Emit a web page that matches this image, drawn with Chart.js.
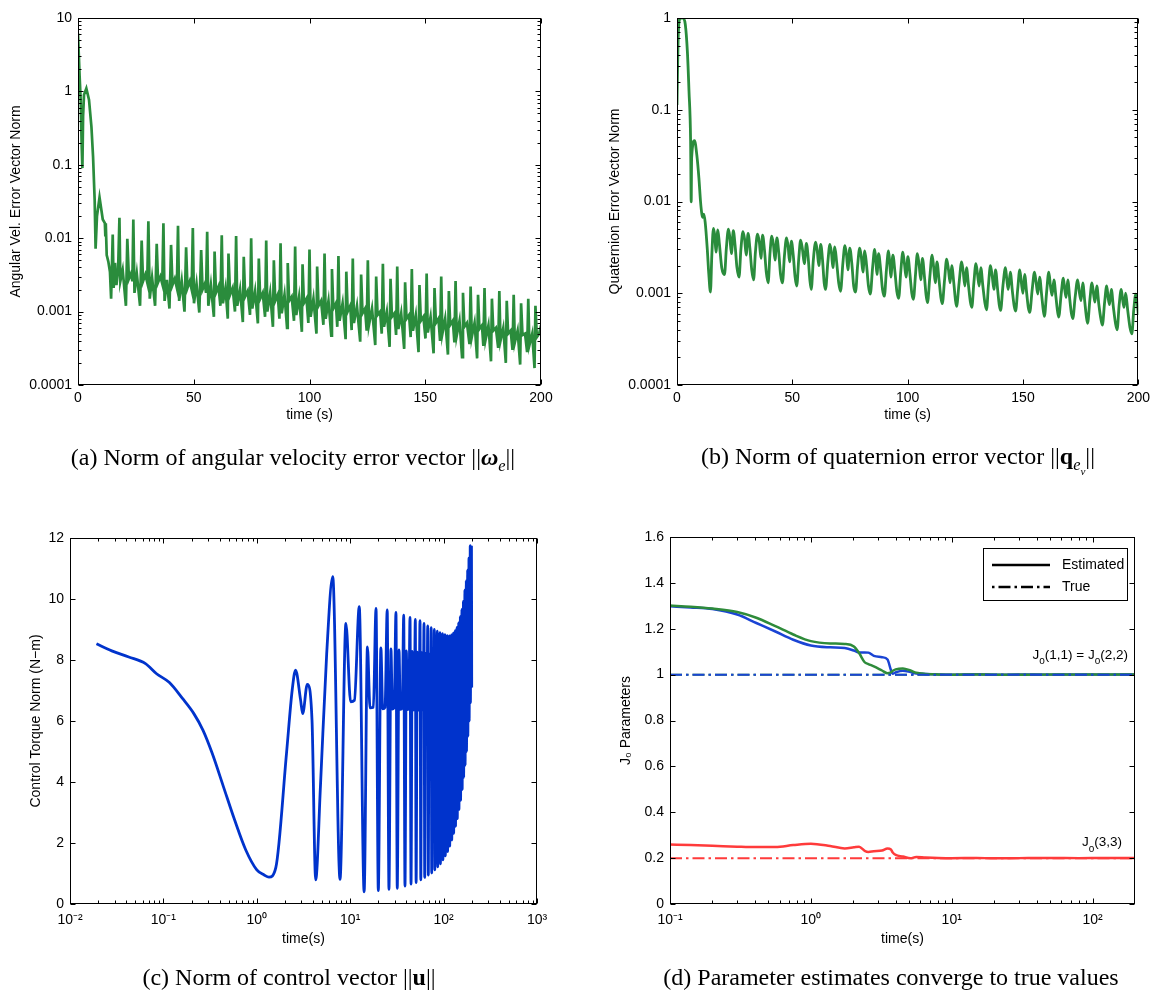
<!DOCTYPE html>
<html>
<head>
<meta charset="utf-8">
<script src="https://cdn.jsdelivr.net/npm/chart.js@4.4.1/dist/chart.umd.min.js"></script>
<style>
  body { margin: 0; background: #fff; }
  #page { position: relative; width: 1155px; height: 992px; overflow: hidden; background: #fff; }
  canvas { position: absolute; }
  .cap { position: absolute; transform: translate(-50%, -50%); will-change: transform; font-family: 'Liberation Serif', 'Times New Roman', serif; font-size: 24px; white-space: nowrap; color: #000; }
  .cap sub { font-size: 68%; }
</style>
</head>
<body>
<div id="page">
  <canvas id="chartA" width="578" height="440" style="left:0;top:0"></canvas>
  <canvas id="chartB" width="577" height="440" style="left:578px;top:0"></canvas>
  <canvas id="chartC" width="578" height="460" style="left:0;top:500px"></canvas>
  <canvas id="chartD" width="577" height="460" style="left:578px;top:500px"></canvas>
  <div class="cap" style="left:293px;top:460px">(a) Norm of angular velocity error vector ||<b><i>ω</i></b><sub><i>e</i></sub>||</div>
  <div class="cap" style="left:898px;top:460px">(b) Norm of quaternion error vector ||<b>q</b><sub><i>e<sub>v</sub></i></sub>||</div>
  <div class="cap" style="left:289px;top:977px">(c) Norm of control vector ||<b>u</b>||</div>
  <div class="cap" style="left:891px;top:977px">(d) Parameter estimates converge to true values</div>
</div>
<script>
// ---- (a) angular velocity error norm ----
const omegaTime = [
  0, 0.7, 1.15, 1.6, 1.9, 2.2, 2.6, 3.6, 4.75, 5.8, 6.5, 7.2, 7.6, 8.2, 9.3, 10.7, 11.6, 11.8, 12.0, 12.4, 13.1, 13.8,
  14.3, 15.0, 15.4, 16.0, 16.6, 17.3, 17.9, 18.3, 19.3,
  20.7, 21.3, 22.0, 22.9, 23.5, 23.9, 24.4, 25.4,
  26.8, 27.5, 28.1, 29.1, 29.9, 30.4, 31.0, 32.0,
  33.3, 34.0, 34.6, 35.6, 36.4, 36.9, 37.4, 38.4,
  39.5, 40.2, 40.8, 41.8, 42.7, 43.2, 43.7, 44.8,
  46.0, 46.7, 47.3, 48.3, 49.1, 49.6, 50.1, 51.2,
  52.4, 53.2, 53.8, 54.8, 55.3, 55.8, 56.3, 57.4,
  58.7, 59.0, 59.6, 60.7, 61.5, 62.1, 62.6, 63.7,
  64.7, 65.0, 65.7, 66.8, 67.8, 68.3, 68.8, 70.0,
  71.2, 71.6, 72.2, 73.3, 74.3, 74.8, 75.3, 76.5,
  77.7, 78.1, 78.7, 79.8, 80.8, 81.3, 81.8, 83.0,
  84.2, 84.6, 85.2, 86.3, 87.0, 87.5, 88.0, 89.2,
  90.3, 90.6, 91.2, 92.3, 93.3, 93.8, 94.3, 95.5,
  96.7, 97.0, 97.6, 98.7, 99.5, 100.0, 100.5, 101.7,
  103.0, 103.3, 103.9, 105.0, 106.0, 106.5, 107.0, 108.2,
  109.4, 109.7, 110.3, 111.4, 112.0, 112.5, 113.0, 114.3,
  115.6, 115.9, 116.5, 117.6, 118.2, 118.7, 119.2, 120.5,
  121.9, 122.3, 122.9, 124.0, 124.7, 125.2, 125.7, 127.0,
  128.4, 128.8, 129.4, 130.5, 131.2, 131.7, 132.2, 133.4,
  134.6, 135.0, 135.6, 136.7, 137.4, 137.9, 138.4, 139.6,
  140.9, 141.3, 141.9, 143.0, 143.7, 144.2, 144.7, 145.9,
  147.1, 147.5, 148.1, 149.2, 150.1, 150.6, 151.1, 152.3,
  153.6, 154.0, 154.6, 155.7, 156.4, 156.9, 157.4, 158.6,
  159.8, 160.2, 160.8, 161.9, 162.6, 163.1, 163.6, 164.8,
  165.9, 166.3, 166.9, 168.0, 169.1, 169.6, 170.1, 171.3,
  172.4, 172.8, 173.4, 174.5, 175.1, 175.6, 176.1, 177.3,
  178.4, 178.8, 179.4, 180.5, 181.5, 182.0, 182.5, 183.7,
  184.8, 185.2, 185.8, 186.9, 187.7, 188.2, 188.7, 189.9,
  191.0, 191.4, 192.0, 193.1, 194.0, 194.5, 195.0, 196.2,
  197.2, 197.6, 198.2, 199.2, 200
];
const omegaNorm = [
  6.2, 1.6, 0.78, 0.18, 0.09, 0.46, 0.9, 1.1, 0.77, 0.33, 0.13, 0.033, 0.0072, 0.02, 0.036, 0.018, 0.016, 0.011, 0.016, 0.0059, 0.0048, 0.0035,
  0.0015, 0.0112, 0.0021, 0.0046, 0.0023, 0.0035, 0.019, 0.0026, 0.0037,
  0.0012, 0.0098, 0.0028, 0.0033, 0.0026, 0.018, 0.0018, 0.0033,
  0.0012, 0.0093, 0.0026, 0.0032, 0.0025, 0.017, 0.0015, 0.0029,
  0.0012, 0.0084, 0.0025, 0.003, 0.0024, 0.016, 0.0014, 0.0027,
  0.0011, 0.0081, 0.0023, 0.0028, 0.0021, 0.0148, 0.0014, 0.0026,
  0.0010, 0.0075, 0.0021, 0.0026, 0.002, 0.0138, 0.0013, 0.0024,
  0.00097, 0.0069, 0.002, 0.0024, 0.0018, 0.0122, 0.0012, 0.0023,
  0.00085, 0.0066, 0.0018, 0.0022, 0.0012, 0.011, 0.0013, 0.0021,
  0.0008, 0.0062, 0.0017, 0.0021, 0.001, 0.0107, 0.0012, 0.002,
  0.00072, 0.0056, 0.0016, 0.0019, 0.0009, 0.010, 0.0011, 0.0019,
  0.00069, 0.0053, 0.0015, 0.0018, 0.00085, 0.0093, 0.001, 0.0018,
  0.00062, 0.005, 0.0014, 0.0017, 0.0008, 0.0085, 0.00095, 0.0017,
  0.0006, 0.0046, 0.0014, 0.0016, 0.00075, 0.0077, 0.0009, 0.0016,
  0.00053, 0.0044, 0.0013, 0.0015, 0.0007, 0.007, 0.00085, 0.0015,
  0.0005, 0.0041, 0.0012, 0.0014, 0.00066, 0.0062, 0.0008, 0.0014,
  0.00047, 0.0038, 0.0011, 0.0013, 0.00062, 0.0057, 0.00075, 0.0013,
  0.00042, 0.0035, 0.001, 0.0012, 0.00056, 0.0053, 0.0007, 0.0012,
  0.00039, 0.0032, 0.00095, 0.0011, 0.00055, 0.005, 0.00066, 0.0011,
  0.00035, 0.003, 0.0009, 0.001, 0.0005, 0.0045, 0.00062, 0.001,
  0.00033, 0.0028, 0.00085, 0.00095, 0.00048, 0.0041, 0.00058, 0.00095,
  0.00031, 0.0025, 0.0008, 0.0009, 0.00045, 0.0038, 0.00055, 0.0009,
  0.00028, 0.0023, 0.00075, 0.00085, 0.00043, 0.0033, 0.00052, 0.00085,
  0.00027, 0.0021, 0.0007, 0.0008, 0.0004, 0.003, 0.0005, 0.0008,
  0.00026, 0.0019, 0.00066, 0.00075, 0.00038, 0.0026, 0.00047, 0.00075,
  0.00024, 0.0018, 0.00062, 0.0007, 0.00036, 0.0022, 0.00045, 0.0007,
  0.00023, 0.0017, 0.00058, 0.00065, 0.00034, 0.0021, 0.00042, 0.00065,
  0.00021, 0.0015, 0.00055, 0.0006, 0.00032, 0.0019, 0.0004, 0.0006,
  0.0002, 0.0014, 0.0005, 0.00055, 0.0003, 0.0017, 0.00038, 0.00055,
  0.00019, 0.0013, 0.00048, 0.0005, 0.00028, 0.0015, 0.00035, 0.0005,
  0.00017, 0.0012, 0.00045, 0.0005, 0.00065
];

// ---- (b) quaternion error norm ----
const quatTime = [
  0, 0.4, 0.9, 1.6, 2.6, 3.6, 4.5, 5.2, 5.9, 6.15, 6.35, 7.6, 8.6, 9.5, 10.2, 10.8, 11.2, 11.6, 12.2, 13.1, 13.8, 14.5,
  15.1, 15.8, 16.4, 16.9, 17.7, 18.4, 19.4, 20.6,
  21.4, 22.3, 22.9, 23.6, 24.4, 25.2, 26.0, 26.9,
  27.7, 28.6, 29.3, 30.0, 30.8, 31.6, 32.4, 33.2,
  34.0, 34.9, 35.7, 36.4, 37.1, 37.9, 38.7, 39.5,
  40.3, 41.1, 41.8, 42.5, 43.3, 44.1, 44.9, 45.7,
  46.6, 47.5, 48.2, 48.8, 49.6, 50.4, 51.2, 51.9,
  52.8, 53.6, 54.4, 55.2, 56.1, 56.9, 57.6, 58.2,
  59.1, 60.1, 60.8, 61.5, 62.3, 63.1, 63.8, 64.4,
  65.4, 66.3, 67.0, 67.6, 68.4, 69.2, 70.1, 70.9,
  71.9, 72.8, 73.5, 74.1, 74.9, 75.8, 76.6, 77.4,
  78.3, 79.2, 79.9, 80.6, 81.4, 82.2, 83.0, 83.8,
  84.8, 85.7, 86.2, 86.7, 87.4, 88.3, 89.1, 89.9,
  90.8, 91.7, 92.2, 92.7, 93.6, 94.5, 95.3, 96.1,
  97.0, 97.9, 98.6, 99.3, 100.1, 101.0, 101.8, 102.5,
  103.4, 104.2, 105.0, 105.7, 106.4, 107.3, 108.0, 108.6,
  109.6, 110.6, 111.3, 112.0, 112.7, 113.6, 114.4, 115.0,
  116.0, 116.9, 117.7, 118.4, 119.1, 120.0, 120.7, 121.2,
  122.3, 123.4, 124.1, 124.8, 125.5, 126.4, 127.2, 127.8,
  128.7, 129.6, 130.3, 131.0, 131.7, 132.6, 133.5, 134.2,
  135.0, 135.9, 136.7, 137.4, 138.1, 139.0, 139.7, 140.3,
  141.3, 142.4, 143.0, 143.6, 144.5, 145.4, 146.2, 146.8,
  147.7, 148.6, 149.3, 150.0, 150.7, 151.6, 152.3, 152.9,
  154.0, 155.0, 155.7, 156.4, 157.2, 158.1, 158.8, 159.3,
  160.2, 161.2, 161.9, 162.6, 163.4, 164.3, 165.0, 165.5,
  166.5, 167.5, 168.1, 168.7, 169.4, 170.3, 171.0, 171.6,
  172.6, 173.7, 174.5, 175.2, 175.9, 176.8, 177.5, 178.0,
  179.0, 179.9, 180.6, 181.2, 182.0, 182.9, 183.8, 184.4,
  185.4, 186.3, 186.9, 187.5, 188.3, 189.2, 190.1, 190.8,
  191.7, 192.6, 193.2, 193.8, 194.5, 195.4, 196.4, 197.2,
  198.0, 198.9, 199.5, 200
];
const quatNorm = [
  0.113, 0.47, 0.92, 1.0, 1.0, 0.85, 0.43, 0.16, 0.045, 0.0099, 0.03, 0.046, 0.032, 0.018, 0.01, 0.0072, 0.0067, 0.0073, 0.006, 0.0031, 0.0016, 0.00103,
  0.0026, 0.0051, 0.0042, 0.0028, 0.0049, 0.0034, 0.0019, 0.0016,
  0.0031, 0.005, 0.0041, 0.0027, 0.0048, 0.0033, 0.0019, 0.0015,
  0.003, 0.0047, 0.0039, 0.0026, 0.0045, 0.0031, 0.0018, 0.0014,
  0.0028, 0.0044, 0.0036, 0.0024, 0.0043, 0.003, 0.0017, 0.0013,
  0.0027, 0.0042, 0.0034, 0.0023, 0.004, 0.0028, 0.0016, 0.0013,
  0.0026, 0.004, 0.0032, 0.0022, 0.0037, 0.0026, 0.0015, 0.0012,
  0.0024, 0.0038, 0.003, 0.0021, 0.0035, 0.0024, 0.0014, 0.0011,
  0.0023, 0.0036, 0.0029, 0.002, 0.0034, 0.0023, 0.0013, 0.0011,
  0.0022, 0.0034, 0.0027, 0.0019, 0.0032, 0.0022, 0.0013, 0.00105,
  0.0021, 0.0033, 0.0026, 0.0018, 0.0031, 0.0021, 0.0012, 0.00103,
  0.002, 0.0031, 0.0025, 0.0017, 0.0029, 0.002, 0.0012, 0.00098,
  0.0019, 0.003, 0.0023, 0.0016, 0.0027, 0.0018, 0.0011, 0.00093,
  0.0018, 0.0029, 0.0022, 0.0015, 0.0026, 0.0017, 0.00105, 0.00088,
  0.0017, 0.0028, 0.0021, 0.0015, 0.0025, 0.0016, 0.001, 0.00086,
  0.0016, 0.0027, 0.002, 0.0014, 0.0024, 0.0015, 0.00095, 0.00079,
  0.0015, 0.0026, 0.0019, 0.0013, 0.0022, 0.0014, 0.0009, 0.00077,
  0.0014, 0.00235, 0.0018, 0.0013, 0.002, 0.0013, 0.00085, 0.00072,
  0.0013, 0.0022, 0.0017, 0.0012, 0.0019, 0.0012, 0.0008, 0.0007,
  0.0013, 0.0021, 0.0016, 0.0012, 0.0019, 0.0012, 0.00078, 0.00066,
  0.0012, 0.002, 0.0015, 0.0011, 0.0018, 0.0011, 0.00075, 0.00065,
  0.0012, 0.0019, 0.0014, 0.0011, 0.0017, 0.00105, 0.00072, 0.00064,
  0.0011, 0.0018, 0.0013, 0.001, 0.0016, 0.001, 0.0007, 0.00062,
  0.0011, 0.0017, 0.0013, 0.00098, 0.0015, 0.00095, 0.00065, 0.00056,
  0.001, 0.0017, 0.0012, 0.00095, 0.0014, 0.0009, 0.00063, 0.00055,
  0.00095, 0.00146, 0.0011, 0.0009, 0.0014, 0.00085, 0.0006, 0.00053,
  0.0009, 0.0014, 0.001, 0.00083, 0.0013, 0.0008, 0.00055, 0.00047,
  0.00085, 0.0013, 0.00098, 0.0008, 0.0012, 0.00075, 0.00052, 0.00045,
  0.0008, 0.0012, 0.0009, 0.00075, 0.0011, 0.0007, 0.00047, 0.0004,
  0.00075, 0.0011, 0.00085, 0.0007, 0.001, 0.00065, 0.00042, 0.00036,
  0.00065, 0.00098, 0.0008, 0.00058
];

// ---- (c) control torque norm ----
const torqueTime = [
  0.0192, 0.028, 0.0426, 0.0643, 0.0845, 0.116, 0.16, 0.211, 0.265, 0.333, 0.439, 0.578, 0.76, 1.0, 1.2, 1.35, 1.6,
  2.08, 2.39, 2.6, 2.94, 3.1, 3.47, 3.9, 4.27, 4.8, 5.6, 6.5, 7.78, 9.0, 10.1, 11.1, 12.5, 14.1,
  15.3, 16.3, 17.7, 18.9, 20.0,
  21.3, 22.3, 23.6, 24.9, 26.0,
  27.3, 28.3, 29.6, 30.9, 31.9,
  33.3, 34.4, 36.1, 37.4, 38.6,
  39.9, 40.9, 42.4, 43.7, 44.8,
  46.1, 47.1, 48.5, 49.8, 50.8,
  52.2, 53.2, 54.6, 55.9, 57.0,
  58.3, 59.3, 60.5, 61.7, 62.8,
  64.1, 65.1, 66.4, 67.6, 68.6,
  69.9, 70.9, 72.3, 73.6, 74.6,
  75.9, 76.9, 78.2, 79.5, 80.5,
  81.8, 82.8, 84.2, 85.5, 86.5,
  87.8, 88.8, 90.2, 91.5, 92.5,
  93.8, 94.8, 96.1, 97.4, 98.4,
  99.7, 100.7, 102.1, 103.4, 104.4,
  105.7, 106.7, 108.1, 109.4, 110.4,
  111.7, 112.7, 114.0, 115.3, 116.3,
  117.6, 118.6, 120.0, 121.3, 122.3,
  123.6, 124.6, 125.9, 127.2, 128.2,
  129.5, 130.5, 131.9, 133.2, 134.2,
  135.5, 136.5, 137.9, 139.2, 140.2,
  141.5, 142.5, 143.8, 145.1, 146.1,
  147.4, 148.4, 149.8, 151.1, 152.1,
  153.4, 154.4, 155.8, 157.1, 158.1,
  159.4, 160.4, 161.7, 163.0, 164.0,
  165.3, 166.3, 167.7, 169.0, 170.0,
  171.3, 172.3, 173.7, 175.0, 176.0,
  177.3, 178.3, 179.6, 180.9, 181.9,
  183.2, 184.2, 185.6, 186.9, 187.9,
  189.2, 190.2, 191.5, 192.8, 193.8,
  195.1, 196.1, 197.5, 198.8, 200
];
const torqueNorm = [
  8.53, 8.3, 8.1, 7.88, 7.55, 7.26, 6.74, 6.25, 5.7, 4.94, 3.85, 2.76, 1.78, 1.12, 0.95, 0.88, 1.2,
  4.94, 7.0, 7.67, 6.7, 6.24, 7.2, 6.03, 0.79, 3.85, 8.2, 10.73, 0.81, 9.2, 6.63, 6.68, 9.75, 0.4,
  8.43, 6.43, 6.45, 9.69, 0.44,
  8.4, 6.4, 6.45, 9.64, 0.48,
  8.36, 6.39, 6.44, 9.56, 0.51,
  8.33, 6.38, 6.43, 9.47, 0.59,
  8.3, 6.37, 6.42, 9.4, 0.65,
  8.28, 6.36, 6.42, 9.33, 0.7,
  8.26, 6.35, 6.41, 9.29, 0.79,
  8.24, 6.35, 6.41, 9.2, 0.87,
  8.22, 6.34, 6.4, 9.12, 0.95,
  8.2, 6.34, 6.4, 9.06, 1.02,
  8.2, 6.34, 6.4, 9.0, 1.12,
  8.2, 6.34, 6.4, 8.95, 1.22,
  8.19, 6.33, 6.4, 8.9, 1.32,
  8.19, 6.33, 6.4, 8.86, 1.45,
  8.19, 6.33, 6.4, 8.83, 1.58,
  8.18, 6.33, 6.4, 8.8, 1.72,
  8.18, 6.33, 6.4, 8.79, 1.9,
  8.18, 6.33, 6.4, 8.82, 2.1,
  8.18, 6.33, 6.4, 8.88, 2.32,
  8.18, 6.33, 6.4, 8.96, 2.55,
  8.19, 6.33, 6.41, 9.07, 2.8,
  8.2, 6.34, 6.42, 9.22, 3.1,
  8.22, 6.35, 6.43, 9.42, 3.4,
  8.25, 6.36, 6.45, 9.66, 3.75,
  8.3, 6.38, 6.48, 9.93, 4.15,
  8.36, 6.42, 6.52, 10.3, 4.55,
  8.44, 6.48, 6.58, 10.6, 5.0,
  8.55, 6.56, 6.66, 10.95, 5.5,
  8.7, 6.68, 6.78, 11.35, 6.0,
  8.9, 6.85, 6.95, 11.75, 6.6,
  9.1, 7.1, 7.2, 11.7, 7.1
];

// ---- (d) parameter estimates ----
const jTime = [0.1, 0.14, 0.2, 0.3, 0.41, 0.56, 0.75, 1.0, 1.37, 1.74, 2.02, 2.2, 2.41, 2.56, 2.8, 3.2, 3.5, 3.7, 3.8, 4.0, 4.5, 5.1, 5.6, 6.5, 8, 10, 15, 20, 30, 50, 80, 120, 200];
const j11Est = [1.298, 1.293, 1.286, 1.262, 1.225, 1.188, 1.152, 1.127, 1.119, 1.116, 1.105, 1.096, 1.097, 1.096, 1.082, 1.076, 1.066, 1.02, 1.004, 1.01, 1.017, 1.011, 1.005, 1.003, 1.001, 1.0, 1.002, 0.999, 1.001, 1.0, 1.001, 1.0, 1.001];
const j22Est = [1.301, 1.296, 1.288, 1.273, 1.248, 1.211, 1.175, 1.146, 1.136, 1.134, 1.123, 1.094, 1.054, 1.046, 1.036, 1.018, 1.006, 1.01, 1.016, 1.023, 1.027, 1.018, 1.008, 1.003, 1.001, 1.0, 1.001, 1.0, 0.999, 1.001, 1.0, 1.001, 1.0];
const j33Est = [0.259, 0.257, 0.254, 0.25, 0.248, 0.248, 0.257, 0.263, 0.253, 0.242, 0.247, 0.25, 0.232, 0.227, 0.23, 0.233, 0.242, 0.238, 0.226, 0.214, 0.207, 0.199, 0.205, 0.203, 0.201, 0.2, 0.201, 0.199, 0.2, 0.201, 0.2, 0.201, 0.2];
const jTrueTime = [0.1, 200];
const j11True = [1.0, 1.0];
const j22True = [1.0, 1.0];
const j33True = [0.2, 0.2];

// ---- tick values / labels ----
const linTimeTicks = [0, 50, 100, 150, 200];
const linTimeLabels = ['0', '50', '100', '150', '200'];
const omegaTicks = [0.0001, 0.001, 0.01, 0.1, 1, 10];
const omegaLabels = ['0.0001', '0.001', '0.01', '0.1', '1', '10'];
const quatTicks = [0.0001, 0.001, 0.01, 0.1, 1];
const quatLabels = ['0.0001', '0.001', '0.01', '0.1', '1'];
const torqueTimeTicks = [0.01, 0.1, 1, 10, 100, 1000];
const torqueTimeLabels = ['10⁻²', '10⁻¹', '10⁰', '10¹', '10²', '10³'];
const torqueTicks = [0, 2, 4, 6, 8, 10, 12];
const torqueLabels = ['0', '2', '4', '6', '8', '10', '12'];
const jTimeTicks = [0.1, 1, 10, 100];
const jTimeLabels = ['10⁻¹', '10⁰', '10¹', '10²'];
const jTicks = [0, 0.2, 0.4, 0.6, 0.8, 1, 1.2, 1.4, 1.6];
const jLabels = ['0', '0.2', '0.4', '0.6', '0.8', '1', '1.2', '1.4', '1.6'];

const GREEN = '#2a8c3c';
const BLUE_C = '#0033cc';
const BLUE_D = '#1a44d4';
const GREEN_D = '#2e8b3a';
const RED_D = '#ff3b3b';
const TRUE_DASH = [12, 4, 2.5, 4];
const FONT = "'Liberation Sans', Arial, sans-serif";

Chart.defaults.font.family = FONT;
Chart.defaults.font.size = 14;
Chart.defaults.color = '#000';

function toPoints(xs, ys) {
  return xs.map((x, i) => ({ x: x, y: ys[i] }));
}

function fixedTicks(values) {
  return scale => { scale.ticks = values.map(v => ({ value: v })); };
}

// box around the axes with inward ticks on all four sides (matlab look)
function makeBox(minorX, minorY) {
  return {
    id: 'matlabBox',
    afterDraw(chart) {
      const { ctx, chartArea: a, scales } = chart;
      const L = Math.round(a.left) + 0.5, R = Math.round(a.right) - 0.5;
      const T = Math.round(a.top) + 0.5, B = Math.round(a.bottom) - 0.5;
      ctx.save();
      ctx.strokeStyle = '#000';
      ctx.lineWidth = 1;
      ctx.strokeRect(L, T, R - L, B - T);
      ctx.beginPath();
      const xTick = (v, len) => {
        const p = Math.round(scales.x.getPixelForValue(v)) + 0.5;
        ctx.moveTo(p, B); ctx.lineTo(p, B - len);
        ctx.moveTo(p, T); ctx.lineTo(p, T + len);
      };
      const yTick = (v, len) => {
        const p = Math.round(scales.y.getPixelForValue(v)) + 0.5;
        ctx.moveTo(L, p); ctx.lineTo(L + len, p);
        ctx.moveTo(R, p); ctx.lineTo(R - len, p);
      };
      scales.x.ticks.forEach(t => xTick(t.value, 5));
      scales.y.ticks.forEach(t => yTick(t.value, 5));
      const minors = (s, fn) => {
        const lo = Math.floor(Math.log10(s.min)), hi = Math.ceil(Math.log10(s.max));
        for (let k = lo; k <= hi; k++) {
          for (let d = 2; d <= 9; d++) {
            const v = d * Math.pow(10, k);
            if (v > s.min && v < s.max) fn(v, 3);
          }
        }
      };
      if (minorX) minors(scales.x, xTick);
      if (minorY) minors(scales.y, yTick);
      ctx.stroke();
      ctx.restore();
    }
  };
}

function makePanel(id, c) {
  const canvas = document.getElementById(id);
  const W = canvas.width, H = canvas.height;
  return new Chart(canvas, {
    type: 'line',
    data: { datasets: c.datasets },
    options: {
      responsive: false,
      animation: false,
      devicePixelRatio: 1,
      events: [],
      layout: { padding: { left: 0, top: c.box.top, right: W - c.box.right, bottom: 0 } },
      elements: { point: { radius: 0 } },
      plugins: { legend: { display: false }, tooltip: { enabled: false } },
      scales: {
        x: {
          type: c.xType, min: c.xMin, max: c.xMax,
          grid: { display: false, drawTicks: false },
          border: { display: false },
          afterBuildTicks: fixedTicks(c.xTicks),
          afterFit: s => { s.height = H - c.box.bottom; },
          ticks: { autoSkip: false, maxRotation: 0, padding: c.xTickPad, callback: (v, i) => c.xLabels[i] },
          title: { display: true, text: c.xTitle, padding: { top: 0, bottom: c.xTitlePad } }
        },
        y: {
          type: c.yType, min: c.yMin, max: c.yMax,
          grid: { display: false, drawTicks: false },
          border: { display: false },
          afterBuildTicks: fixedTicks(c.yTicks),
          afterFit: s => { s.width = c.box.left; },
          ticks: { autoSkip: false, padding: 6, callback: (v, i) => c.yLabels[i] },
          title: { display: true, text: c.yTitle, padding: { top: c.yTitlePad, bottom: 0 } }
        }
      }
    },
    plugins: [makeBox(c.xType === 'logarithmic', c.yType === 'logarithmic')].concat(c.extra || [])
  });
}

// (a)
makePanel('chartA', {
  box: { left: 78, top: 18, right: 541, bottom: 385 },
  xType: 'linear', xMin: 0, xMax: 200, xTicks: linTimeTicks, xLabels: linTimeLabels, xTitle: 'time (s)', xTitlePad: 16.6, xTickPad: 5,
  yType: 'logarithmic', yMin: 0.0001, yMax: 10, yTicks: omegaTicks, yLabels: omegaLabels, yTitle: 'Angular Vel. Error Vector Norm', yTitlePad: 7.6,
  datasets: [{ data: toPoints(omegaTime, omegaNorm), borderColor: GREEN, borderWidth: 2.7, tension: 0, fill: false }]
});

// (b)
makePanel('chartB', {
  box: { left: 99, top: 18, right: 563, bottom: 385 },
  xType: 'linear', xMin: 0, xMax: 200, xTicks: linTimeTicks, xLabels: linTimeLabels, xTitle: 'time (s)', xTitlePad: 16.6, xTickPad: 5,
  yType: 'logarithmic', yMin: 0.0001, yMax: 1, yTicks: quatTicks, yLabels: quatLabels, yTitle: 'Quaternion Error Vector Norm', yTitlePad: 28.6,
  datasets: [{ data: toPoints(quatTime, quatNorm), borderColor: GREEN, borderWidth: 2.8, cubicInterpolationMode: 'monotone', fill: false }]
});

// (c)
makePanel('chartC', {
  box: { left: 70, top: 38, right: 537, bottom: 404 },
  xType: 'logarithmic', xMin: 0.01, xMax: 1000, xTicks: torqueTimeTicks, xLabels: torqueTimeLabels, xTitle: 'time(s)', xTitlePad: 12.6, xTickPad: 8,
  yType: 'linear', yMin: 0, yMax: 12, yTicks: torqueTicks, yLabels: torqueLabels, yTitle: 'Control Torque Norm (N−m)', yTitlePad: 27.4,
  datasets: [{ data: toPoints(torqueTime, torqueNorm), borderColor: BLUE_C, borderWidth: 2.8, cubicInterpolationMode: 'monotone', fill: false }]
});

// (d) legend + labels drawn on top
function drawSubText(ctx, parts, right, mid) {
  const big = '13.5px ' + FONT, small = '10px ' + FONT;
  let total = 0;
  parts.forEach(p => { ctx.font = p[1] ? small : big; total += ctx.measureText(p[0]).width; });
  let x = right - total;
  ctx.textAlign = 'left';
  ctx.textBaseline = 'middle';
  parts.forEach(p => {
    ctx.font = p[1] ? small : big;
    ctx.fillText(p[0], x, p[1] ? mid + 6.5 : mid);
    x += ctx.measureText(p[0]).width;
  });
}

const jDecor = {
  id: 'jDecor',
  afterDraw(chart) {
    const ctx = chart.ctx;
    ctx.save();
    ctx.fillStyle = '#fff';
    ctx.fillRect(405, 48, 144, 52);
    ctx.strokeStyle = '#000';
    ctx.lineWidth = 1;
    ctx.strokeRect(405.5, 48.5, 144, 52);
    ctx.lineWidth = 2.5;
    ctx.beginPath(); ctx.moveTo(414, 65); ctx.lineTo(472, 65); ctx.stroke();
    ctx.setLineDash([2.5, 4, 12, 4]);
    ctx.beginPath(); ctx.moveTo(414, 87); ctx.lineTo(472, 87); ctx.stroke();
    ctx.setLineDash([]);
    ctx.fillStyle = '#000';
    ctx.font = '14px ' + FONT;
    ctx.textAlign = 'left';
    ctx.textBaseline = 'middle';
    ctx.fillText('Estimated', 484, 65);
    ctx.fillText('True', 484, 87);
    drawSubText(ctx, [['J', 0], ['o', 1], ['(1,1) = J', 0], ['o', 1], ['(2,2)', 0]], 550, 155);
    drawSubText(ctx, [['J', 0], ['o', 1], ['(3,3)', 0]], 544, 342.5);
    ctx.restore();
  }
};

makePanel('chartD', {
  box: { left: 92, top: 37, right: 557, bottom: 404 },
  xType: 'logarithmic', xMin: 0.1, xMax: 200, xTicks: jTimeTicks, xLabels: jTimeLabels, xTitle: 'time(s)', xTitlePad: 12.6, xTickPad: 8,
  yType: 'linear', yMin: 0, yMax: 1.6, yTicks: jTicks, yLabels: jLabels, yTitle: 'J₀ Parameters', yTitlePad: 39.4,
  datasets: [
    { data: toPoints(jTrueTime, j11True), borderColor: BLUE_D, borderWidth: 2, borderDash: TRUE_DASH, fill: false },
    { data: toPoints(jTime, j22Est), borderColor: GREEN_D, borderWidth: 2.5, cubicInterpolationMode: 'monotone', fill: false },
    { data: toPoints(jTime, j11Est), borderColor: BLUE_D, borderWidth: 2.5, cubicInterpolationMode: 'monotone', fill: false },
    { data: toPoints(jTrueTime, j22True), borderColor: GREEN_D, borderWidth: 2, borderDash: TRUE_DASH, fill: false },
    { data: toPoints(jTime, j33Est), borderColor: RED_D, borderWidth: 2.5, cubicInterpolationMode: 'monotone', fill: false },
    { data: toPoints(jTrueTime, j33True), borderColor: RED_D, borderWidth: 2, borderDash: TRUE_DASH, fill: false }
  ],
  extra: [jDecor]
});
</script>
</body>
</html>
